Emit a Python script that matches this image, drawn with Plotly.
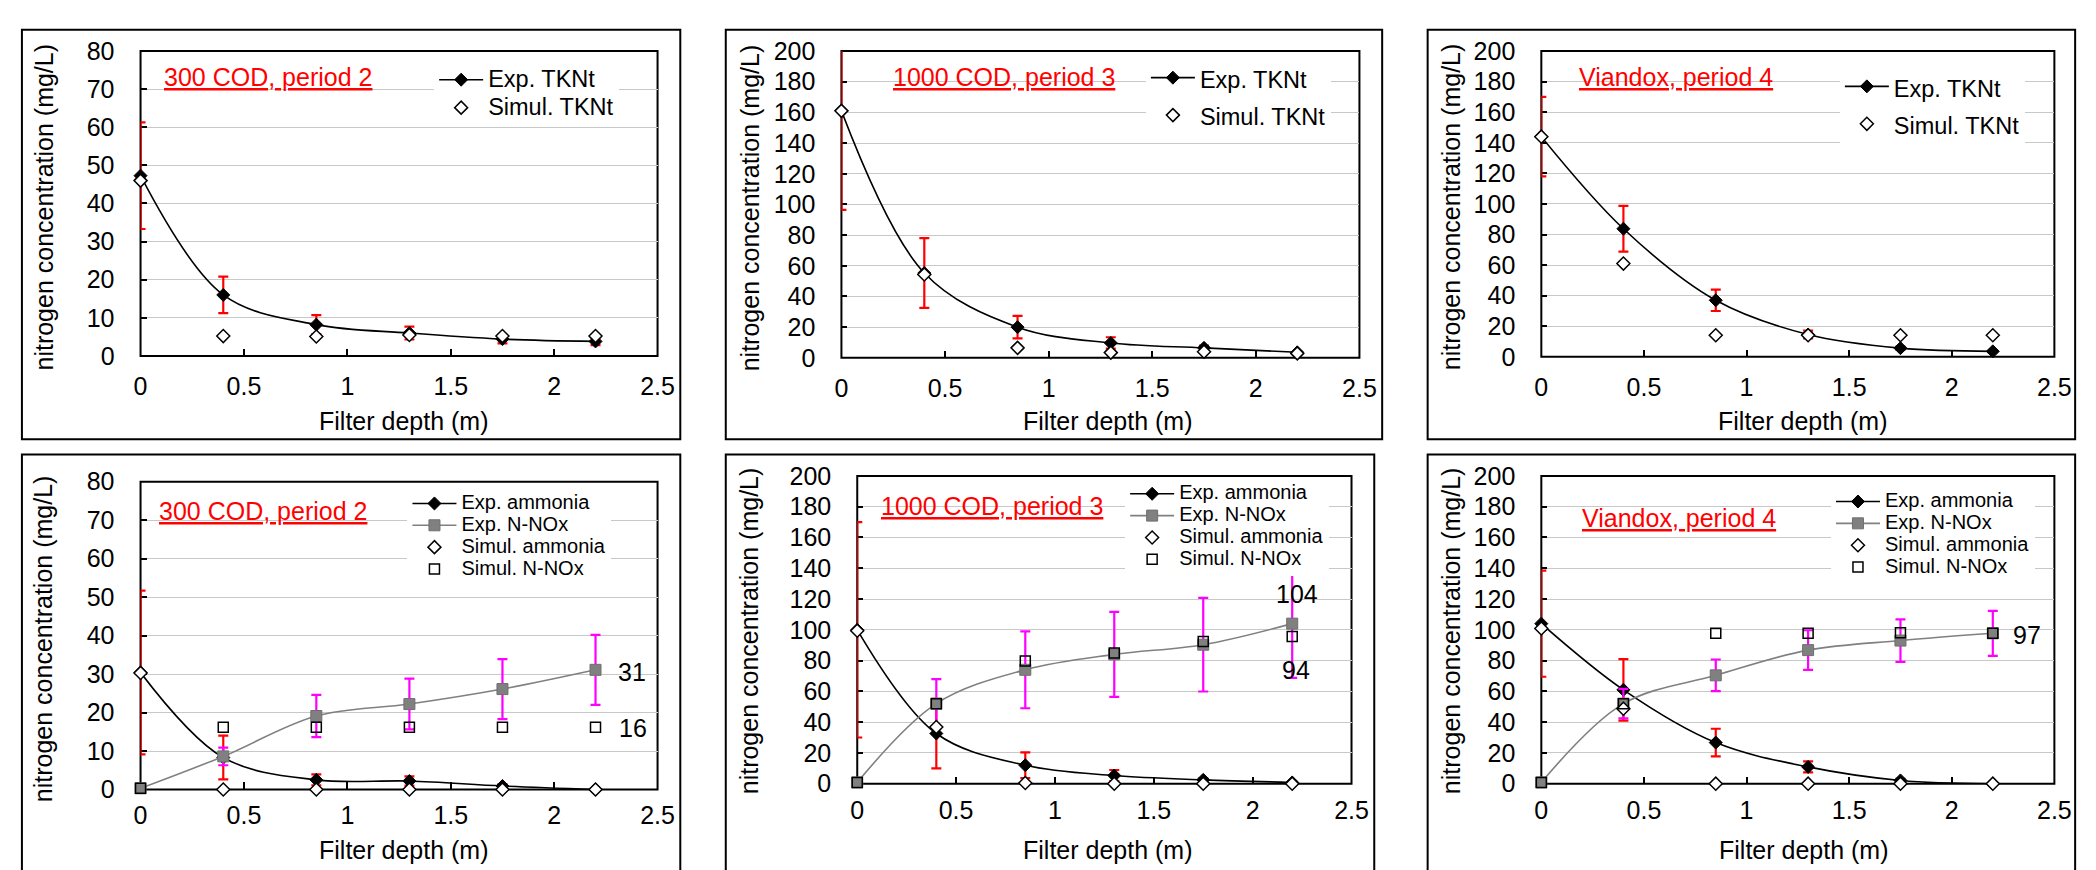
import plotly.graph_objects as go

FONT = "Liberation Sans, Arial, sans-serif"

# ---------------- data ----------------
depth = [0, 0.4, 0.85, 1.3, 1.75, 2.2]

# TKNt panels (top row)
tkn300_exp = [47.3, 16.0, 8.2, 6.0, 4.4, 3.8]
tkn300_err_up = [14.0, 4.8, 2.5, 1.7, 1.1, 1.0]
tkn300_err_dn = [14.0, 4.8, 2.5, 1.7, 1.1, 1.0]
tkn300_sim = [46.0, 5.2, 5.1, 5.5, 5.2, 5.2]

tkn1000_exp = [161.0, 55.3, 20.0, 9.7, 6.5, 3.6]
tkn1000_err_up = [44.0, 22.7, 7.3, 3.7, 1.5, 0.5]
tkn1000_err_dn = [64.5, 22.7, 7.3, 3.7, 1.5, 0.5]
tkn1000_sim = [161.0, 54.3, 6.5, 3.4, 4.0, 2.9]

tknvia_exp = [144.0, 83.8, 37.0, 14.6, 5.7, 3.6]
tknvia_err_up = [26.0, 15.0, 7.0, 2.5, 1.0, 0.5]
tknvia_err_dn = [26.0, 15.0, 7.0, 2.5, 1.0, 0.5]
tknvia_sim = [144.0, 61.0, 14.1, 14.1, 14.1, 14.1]

# ammonia / N-NOx panels (bottom row)
nh4_300_exp = [30.4, 8.3, 2.5, 2.2, 0.9, 0.0]
nh4_300_err = [21.3, 5.7, 1.4, 1.2, 0.5, 0.2]
nox_300_exp = [0.3, 8.6, 19.1, 22.2, 26.1, 31.1]
nox_300_err = [0.0, 2.3, 5.5, 6.6, 7.8, 9.1]
nh4_300_sim = [30.3, 0.0, 0.0, 0.0, 0.0, 0.0]
nox_300_sim = [0.3, 16.2, 16.2, 16.2, 16.2, 16.2]

nh4_1000_exp = [100.0, 32.6, 12.0, 5.3, 2.5, 0.8]
nh4_1000_err = [70.0, 22.6, 8.4, 3.6, 1.0, 0.5]
nox_1000_exp = [0.8, 52.0, 74.0, 84.0, 90.3, 104.0]
nox_1000_err = [0.0, 16.0, 25.0, 27.6, 30.4, 35.3]
nh4_1000_sim = [99.4, 36.8, 0.4, 0.0, 0.0, 0.0]
nox_1000_sim = [0.8, 52.0, 79.8, 85.0, 92.4, 95.6]

nh4_via_exp = [104.0, 61.0, 26.7, 10.9, 2.1, 0.0]
nh4_via_err = [34.5, 20.0, 9.0, 3.6, 1.0, 0.3]
nox_via_exp = [0.8, 52.0, 70.4, 86.8, 93.0, 97.7]
nox_via_err = [0.0, 9.6, 10.3, 12.9, 13.8, 14.6]
nh4_via_sim = [100.8, 48.7, 0.0, 0.0, 0.0, 0.0]
nox_via_sim = [0.8, 52.0, 97.7, 97.7, 98.1, 97.7]

panel_titles = ["300 COD, period 2", "1000 COD, period 3", "Viandox, period 4",
                "300 COD, period 2", "1000 COD, period 3", "Viandox, period 4"]
y_max = [80, 200, 200, 80, 200, 200]
y_step = [10, 20, 20, 10, 20, 20]
x_ticks = [0, 0.5, 1, 1.5, 2, 2.5]
x_title = "Filter depth (m)"
y_title = "nitrogen concentration (mg/L)"

# value labels on the last points: (panel, series, text, xshift, yshift)
end_labels = [
    (4, nox_300_exp, "31", 36, -2),
    (4, nox_300_sim, "16", 37, -1),
    (5, nox_1000_exp, "104", 5, 30),
    (5, nox_1000_sim, "94", 4, -33),
    (6, nox_via_exp, "97", 34, -2),
]

# ---------------- layout geometry (pixels) ----------------
W, H = 2096, 870
# plot areas: x0, x1, ytop, ybottom
areas = [
    (127, 650, 30, 345),
    (836, 1360, 30, 347),
    (1544, 2063, 30, 346),
    (127, 650, 475, 793),
    (852, 1352, 469, 787),
    (1544, 2063, 469, 787),
]
boxes = [
    (7, 8, 673, 431), (719, 8, 1383, 431), (1429, 8, 2084, 431),
    (7, 447, 673, 905), (719, 447, 1375, 905), (1429, 447, 2084, 905),
]
xlabel_standoff = [13, 13, 13, 9, 9, 9]
title_pos = [(149, 57), (886, 57), (1580, 57), (144, 505), (874, 500), (1583, 512)]
ytitle_pos = [(29, 191), (743, 192), (1452, 191), (29, 637), (742, 629), (1452, 629)]
xtitle_pos = [(393, 412), (1105, 412), (1808, 412), (393, 856), (1105, 856), (1809, 856)]
# legend: left, top, font size (sets row spacing), text size
legend_pos = [(424, 40, 19.2, 23.5), (1144, 33, 26.5, 23.5), (1846, 42, 26.5, 23.5),
              (397, 481, 14.5, 20), (1123, 471, 14.5, 20), (1837, 479, 14.5, 20)]


def px(x):
    return x / W


def py(y):
    return 1 - y / H


fig = go.Figure()

RED = "#ff0000"
MAG = "#ff00ff"
GRAY = "#808080"


def nm(text, size):
    return '<span style="font-size:%spx">%s</span>' % (size, text)


def leg(i):
    return "legend" if i == 1 else "legend%d" % i


def exp_trace(i, y, err_up, err_dn, name, lcolor, mcolor, symbol, msize, ecolor, tsize):
    return go.Scatter(
        x=depth, y=y, name=nm(name, tsize), mode="lines+markers", cliponaxis=False,
        line=dict(color=lcolor, width=1.6, shape="spline", smoothing=1.0),
        marker=dict(symbol=symbol, size=msize, color=mcolor,
                    line=dict(color=mcolor if symbol == "diamond" else "#6e6e6e", width=1)),
        error_y=dict(type="data", array=err_up, arrayminus=err_dn, symmetric=False,
                     color=ecolor, thickness=2.2, width=5),
        xaxis="x%d" % i, yaxis="y%d" % i, legend=leg(i),
    )


def sim_trace(i, y, name, symbol, msize, tsize):
    return go.Scatter(
        x=depth, y=y, name=nm(name, tsize), mode="markers", cliponaxis=False,
        marker=dict(symbol=symbol, size=msize,
                    color="white" if symbol == "diamond" else "rgba(0,0,0,0)",
                    line=dict(color="black", width=1.5)),
        xaxis="x%d" % i, yaxis="y%d" % i, legend=leg(i),
    )


top_sets = [(tkn300_exp, tkn300_err_up, tkn300_err_dn, tkn300_sim),
            (tkn1000_exp, tkn1000_err_up, tkn1000_err_dn, tkn1000_sim),
            (tknvia_exp, tknvia_err_up, tknvia_err_dn, tknvia_sim)]
for k, (e, eu, ed, s) in enumerate(top_sets):
    i = k + 1
    ts = legend_pos[k][3]
    fig.add_trace(exp_trace(i, e, eu, ed, "Exp. TKNt", "black", "black", "diamond", 10, RED, ts))
    fig.add_trace(sim_trace(i, s, "Simul. TKNt", "diamond", 10, ts))

bot_sets = [(nh4_300_exp, nh4_300_err, nox_300_exp, nox_300_err, nh4_300_sim, nox_300_sim),
            (nh4_1000_exp, nh4_1000_err, nox_1000_exp, nox_1000_err, nh4_1000_sim, nox_1000_sim),
            (nh4_via_exp, nh4_via_err, nox_via_exp, nox_via_err, nh4_via_sim, nox_via_sim)]
for k, (a, ae, n, ne, asim, nsim) in enumerate(bot_sets):
    i = k + 4
    ts = legend_pos[k + 3][3]
    fig.add_trace(exp_trace(i, a, ae, ae, "Exp. ammonia", "black", "black", "diamond", 10, RED, ts))
    fig.add_trace(exp_trace(i, n, ne, ne, "Exp. N-NOx", GRAY, GRAY, "square", 11, MAG, ts))
    fig.add_trace(sim_trace(i, asim, "Simul. ammonia", "diamond", 10, ts))
    fig.add_trace(sim_trace(i, nsim, "Simul. N-NOx", "square", 10, ts))

layout = dict(
    width=W, height=H, autosize=False,
    margin=dict(l=0, r=0, t=0, b=0),
    paper_bgcolor="white", plot_bgcolor="white",
    font=dict(family=FONT, color="black", size=25),
    showlegend=True, hovermode=False,
)

annotations = []
shapes = []
for k in range(6):
    i = k + 1
    x0, x1, yt, yb = areas[k]
    sfx = "" if i == 1 else str(i)
    inner = list(range(y_step[k], y_max[k], y_step[k]))
    layout["xaxis" + sfx] = dict(
        domain=[px(x0), px(x1)], anchor="y" + sfx, range=[0, 2.5],
        tickmode="array", tickvals=x_ticks, ticks="inside", ticklen=7, tickwidth=1.5,
        tickcolor="black", showline=False,
        showgrid=False, zeroline=False, ticklabelstandoff=xlabel_standoff[k],
        layer="below traces",
        tickfont=dict(size=25, family=FONT, color="black"), fixedrange=True,
    )
    layout["yaxis" + sfx] = dict(
        domain=[py(yb), py(yt)], anchor="x" + sfx, range=[0, y_max[k]],
        dtick=y_step[k], tick0=0, ticks="inside", ticklen=6, tickwidth=1.5,
        tickcolor="black", showline=False, showgrid=False, zeroline=False,
        minor=dict(tickmode="array", tickvals=inner, showgrid=True,
                   gridcolor="#c8c8c8", gridwidth=1, ticks=""),
        ticklabelstandoff=25, layer="below traces",
        tickfont=dict(size=25, family=FONT, color="black"), fixedrange=True,
    )
    # plot-area frame beneath the data, so error bars at depth 0 stay visible
    shapes.append(dict(type="rect", xref="x%s domain" % sfx, yref="y%s domain" % sfx,
                       x0=0, x1=1, y0=0, y1=1, line=dict(color="black", width=2),
                       fillcolor="rgba(0,0,0,0)", layer="below"))
    lx, ly, lfs, _ = legend_pos[k]
    layout[leg(i)] = dict(
        x=px(lx), y=py(ly), xanchor="left", yanchor="top", xref="paper", yref="paper",
        bgcolor="white", borderwidth=0, itemwidth=44, tracegroupgap=0,
        font=dict(size=lfs, family=FONT, color="black"),
        itemclick=False, itemdoubleclick=False,
    )
    bx0, by0, bx1, by1 = boxes[k]
    shapes.append(dict(type="rect", xref="paper", yref="paper",
                       x0=px(bx0), x1=px(bx1), y0=py(by1), y1=py(by0),
                       line=dict(color="black", width=2), fillcolor="rgba(0,0,0,0)", layer="above"))
    tx, ty = title_pos[k]
    annotations.append(dict(text="<u>%s</u>" % panel_titles[k], xref="paper", yref="paper",
                            x=px(tx), y=py(ty), xanchor="left", yanchor="middle", showarrow=False,
                            font=dict(size=25, color=RED, family=FONT)))
    yx, yy = ytitle_pos[k]
    annotations.append(dict(text=y_title, xref="paper", yref="paper", x=px(yx), y=py(yy),
                            xanchor="center", yanchor="middle", textangle=-90, showarrow=False,
                            font=dict(size=25, color="black", family=FONT)))
    xx, xy = xtitle_pos[k]
    annotations.append(dict(text=x_title, xref="paper", yref="paper", x=px(xx), y=py(xy),
                            xanchor="center", yanchor="middle", showarrow=False,
                            font=dict(size=25, color="black", family=FONT)))

for (p, series, txt, xs, ys) in end_labels:
    sfx = "" if p == 1 else str(p)
    annotations.append(dict(text=txt, xref="x" + sfx, yref="y" + sfx, x=depth[-1], y=series[-1],
                            xshift=xs, yshift=ys, showarrow=False, xanchor="center", yanchor="middle",
                            font=dict(size=25, color="black", family=FONT)))

layout["annotations"] = annotations
layout["shapes"] = shapes
fig.update_layout(**layout)

fig.write_html("out.html")
